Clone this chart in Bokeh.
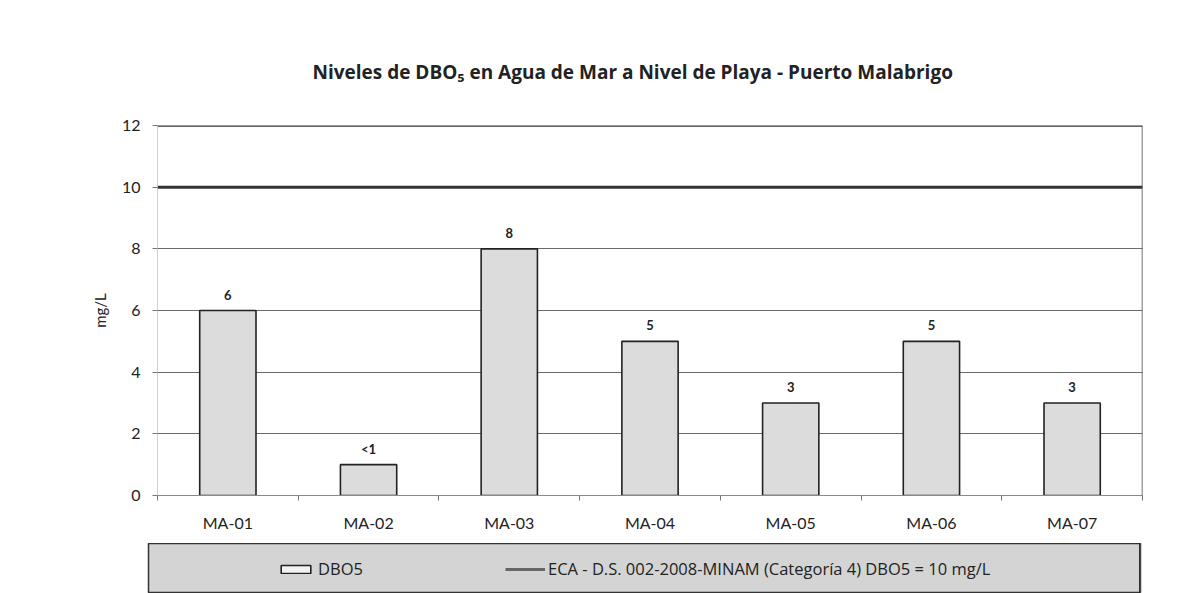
from bokeh.plotting import figure
from bokeh.models import (Range1d, FixedTicker, Span, Title, Legend, LegendItem,
                          ColumnDataSource)
from bokeh.layouts import column, row
from bokeh.core.properties import value
from bokeh.embed import file_html
from bokeh.resources import INLINE

# ---- data ----
categories = ["MA-01", "MA-02", "MA-03", "MA-04", "MA-05", "MA-06", "MA-07"]
dbo5_values = [6, 1, 8, 5, 3, 5, 3]
dbo5_labels = ["6", "<1", "8", "5", "3", "5", "3"]
eca_limit = 10
y_ticks = [0, 2, 4, 6, 8, 10, 12]
title_text = "Niveles de DBO\u2085 en Agua de Mar a Nivel de Playa - Puerto Malabrigo"
series_name = "DBO5"
eca_name = "ECA - D.S. 002-2008-MINAM (Categoría 4) DBO5 = 10 mg/L"
y_label = "mg/L"

FONT = "Lato"
FONT2 = "Open Sans"
n = len(categories)
centers = [i + 0.5 for i in range(n)]
bounds = [i for i in range(n + 1)]

src = ColumnDataSource(dict(x=centers, top=dbo5_values, lab=dbo5_labels))

p = figure(width=1179, height=543, output_backend="svg", toolbar_location=None,
           x_range=Range1d(0, n), y_range=Range1d(y_ticks[0], y_ticks[-1]),
           min_border_left=157, min_border_right=37, min_border_top=125,
           min_border_bottom=48, title=None)
p.background_fill_color = "white"
p.border_fill_color = "white"
p.outline_line_color = None

# titles (spacer first, so the real title sits higher)
p.add_layout(Title(text=" ", text_font_size="20px", text_font=FONT), "above")
p.add_layout(Title(text=title_text, text_font=FONT2, text_font_size="19px",
                   text_font_style="bold", text_color="#222", align="left",
                   offset=155), "above")

# grid
p.xgrid.visible = False
p.ygrid.ticker = FixedTicker(ticks=y_ticks)
p.ygrid.grid_line_color = "#6a6a6a"
p.ygrid.grid_line_width = 1

# y axis
p.yaxis.ticker = FixedTicker(ticks=y_ticks)
p.yaxis.axis_line_color = "#a0a0a0"
p.yaxis.axis_line_dash = "1 1"
p.yaxis.major_tick_line_color = "#777"
p.yaxis.major_tick_out = 5
p.yaxis.major_tick_in = 0
p.yaxis.minor_tick_line_color = None
p.yaxis.major_label_text_font = FONT
p.yaxis.major_label_text_font_size = "16px"
p.yaxis.major_label_text_color = "#222"
p.yaxis.major_label_standoff = 12
p.yaxis.axis_label = y_label
p.yaxis.axis_label_text_font = FONT
p.yaxis.axis_label_text_font_size = "15px"
p.yaxis.axis_label_text_font_style = "normal"
p.yaxis.axis_label_text_color = "#222"
p.yaxis.axis_label_standoff = 10

# x axis (category labels at centres, ticks at boundaries)
p.xaxis.ticker = FixedTicker(ticks=centers, minor_ticks=bounds)
p.xaxis.major_label_overrides = {c: lab for c, lab in zip(centers, categories)}
p.xaxis.axis_line_color = "#8a8a8a"
p.xaxis.major_tick_line_color = None
p.xaxis.major_tick_out = 0
p.xaxis.major_tick_in = 0
p.xaxis.minor_tick_line_color = "#777"
p.xaxis.minor_tick_out = 5
p.xaxis.minor_tick_in = 0
p.xaxis.major_label_text_font = FONT
p.xaxis.major_label_text_font_size = "16px"
p.xaxis.major_label_text_color = "#222"
p.xaxis.major_label_standoff = 12

# frame borders (top and right)
p.add_layout(Span(location=y_ticks[-1], dimension="width", line_color="#333",
                  line_width=2.5))
p.add_layout(Span(location=n, dimension="height", line_color="#444",
                  line_width=1.5))

# bars
bar_style = dict(fill_color="#dcdcdc", line_color="#222", line_width=1.6)
line_style = dict(line_color="#333", line_width=3)
p.vbar(x="x", top="top", width=0.4, bottom=0, source=src, **bar_style)

# ECA line
p.line(x=[0, n], y=[eca_limit, eca_limit], **line_style)

# data labels
p.text(x="x", y="top", text="lab", source=src, text_align="center",
       text_baseline="middle", y_offset=-16, text_font=value(FONT),
       text_font_size="13px", text_font_style="bold", text_color="#222")

# ---- legend strip ----
q = figure(width=1179, height=50, output_backend="svg", toolbar_location=None,
           x_range=Range1d(-3, -2), y_range=Range1d(0, 1),
           min_border_left=148, min_border_right=39, min_border_top=0,
           min_border_bottom=0, x_axis_location=None, y_axis_location=None)
q.grid.visible = False
q.background_fill_color = "#d4d4d4"
q.border_fill_color = "white"
q.outline_line_color = "#333"
q.outline_line_width = 1.5

# legend proxies: same series, outside this strip's visible range
r_bar = q.vbar(x=centers, top=dbo5_values, width=0.4, fill_color="#f2f2f2",
               line_color="#222", line_width=1.6)
r_line = q.line(x=[0, n], y=[eca_limit, eca_limit], line_color="#666",
                line_width=3)

leg_common = dict(padding=0, margin=0, background_fill_alpha=0,
                  border_line_color=None, label_text_font=FONT2,
                  label_text_font_size="16.5px", label_text_color="#222",
                  glyph_height=10)
leg1 = Legend(items=[LegendItem(label=value(series_name), renderers=[r_bar])],
              location=(129, 13), glyph_width=37, label_standoff=4,
              **leg_common)
leg2 = Legend(items=[LegendItem(label=value(eca_name), renderers=[r_line])],
              location=(357, 13), glyph_width=40, label_standoff=3,
              **leg_common)
q.add_layout(leg1)
q.add_layout(leg2)

layout = column(p, row(q, spacing=0), spacing=0)

open("out.html", "w").write(file_html(layout, INLINE))
